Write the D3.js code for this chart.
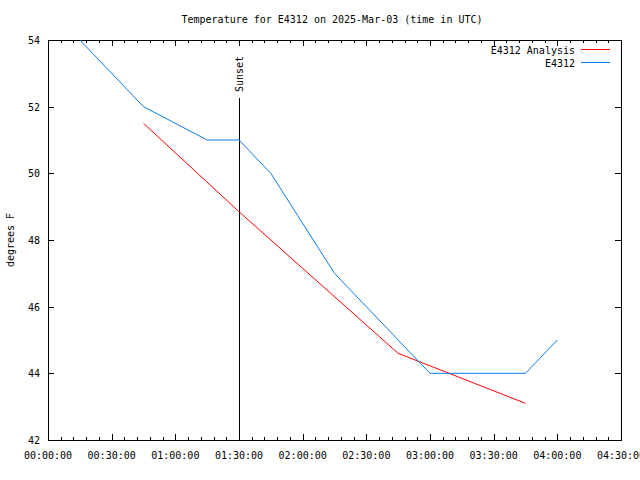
<!DOCTYPE html>
<html><head><meta charset="utf-8">
<script src="https://cdn.jsdelivr.net/npm/d3@7"></script>
<style>body{margin:0;background:#fff}svg{display:block}text{font-family:"DejaVu Sans Mono","Liberation Mono",monospace;font-size:10px;fill:#000}</style>
</head><body><svg id="c" width="640" height="480"></svg>
<script>
const title = "Temperature for E4312 on 2025-Mar-03 (time in UTC)";
const xTickLabels = ["00:00:00","00:30:00","01:00:00","01:30:00","02:00:00","02:30:00","03:00:00","03:30:00","04:00:00","04:30:00"];
const yTicks = [42,44,46,48,50,52,54];
const obsTimes = ["00:15","00:45","01:15","01:30","01:45","02:15","03:00","03:45","04:00"];
const obsTemps = [54,52,51,51,50,47,44,44,45];
const anaTimes = ["00:45","01:30","02:45","03:45"];
const anaTemps = [51.5,48.85,44.6,43.1];
const sunsetTime = "01:30";

const toMin = s => { const p = s.split(":").map(Number); return p[0]*60 + p[1] + (p[2]||0)/60; };
const svg = d3.select("#c");
const L = 48, R = 621, T = 40, B = 440;
const x = d3.scaleLinear().domain([0, 270]).range([L, R]);
const y = d3.scaleLinear().domain([42, 54]).range([B, T]);

svg.append("text").attr("x", 332).attr("y", 23).attr("text-anchor", "middle").text(title);

const g = svg.append("g").attr("shape-rendering", "crispEdges");
const majors = xTickLabels.map(toMin);
const minors = d3.range(0, 271, 6).filter(m => m % 30 !== 0);
// x ticks bottom & top
minors.forEach(m => {
  const px = Math.round(x(m)) + 0.5;
  g.append("line").attr("x1", px).attr("x2", px).attr("y1", B).attr("y2", B - 3).attr("stroke", "#000");
  g.append("line").attr("x1", px).attr("x2", px).attr("y1", T).attr("y2", T + 3).attr("stroke", "#000");
});
majors.forEach((m, i) => {
  const px = Math.round(x(m)) + 0.5;
  g.append("line").attr("x1", px).attr("x2", px).attr("y1", B).attr("y2", B - 6).attr("stroke", "#000");
  g.append("line").attr("x1", px).attr("x2", px).attr("y1", T).attr("y2", T + 6).attr("stroke", "#000");
  svg.append("text").attr("x", x(m)).attr("y", B + 19).attr("text-anchor", "middle").text(xTickLabels[i]);
});
yTicks.forEach(v => {
  const py = Math.round(y(v)) + 0.5;
  g.append("line").attr("x1", L).attr("x2", L + 6).attr("y1", py).attr("y2", py).attr("stroke", "#000");
  g.append("line").attr("x1", R).attr("x2", R - 6).attr("y1", py).attr("y2", py).attr("stroke", "#000");
  svg.append("text").attr("x", 40).attr("y", y(v) + 4).attr("text-anchor", "end").text(v);
});

svg.append("text").attr("transform", "translate(14,240) rotate(-90)").attr("text-anchor", "middle").text("degrees F");

// sunset
const sx = Math.round(x(toMin(sunsetTime))) + 0.5;
g.append("line").attr("x1", sx).attr("x2", sx).attr("y1", 98).attr("y2", B).attr("stroke", "#000");
svg.append("text").attr("transform", `translate(${sx + 3.5},92) rotate(-90)`).attr("text-anchor", "start").text("Sunset");

// clip
svg.append("clipPath").attr("id", "clip").append("rect").attr("x", L).attr("y", T).attr("width", R - L).attr("height", B - T);
const line = d3.line().x(d => x(d[0])).y(d => y(d[1]));
const obs = obsTimes.map((t, i) => [toMin(t), obsTemps[i]]);
const ana = anaTimes.map((t, i) => [toMin(t), anaTemps[i]]);
svg.append("path").attr("clip-path", "url(#clip)").attr("d", line(ana)).attr("fill", "none").attr("stroke", "#ff0000").attr("stroke-width", 1);
svg.append("path").attr("clip-path", "url(#clip)").attr("d", line(obs)).attr("fill", "none").attr("stroke", "#0a7ee8").attr("stroke-width", 1);

// legend
const leg = [["E4312 Analysis", "#ff0000", 50], ["E4312", "#0a7ee8", 63]];
leg.forEach(([name, col, ly]) => {
  svg.append("text").attr("x", 575).attr("y", ly + 4).attr("text-anchor", "end").text(name);
  g.append("line").attr("x1", 581).attr("x2", 610).attr("y1", ly - 0.5).attr("y2", ly - 0.5).attr("stroke", col);
});

// border
g.append("rect").attr("x", L + 0.5).attr("y", T + 0.5).attr("width", R - L).attr("height", B - T).attr("fill", "none").attr("stroke", "#000");
</script></body></html>
